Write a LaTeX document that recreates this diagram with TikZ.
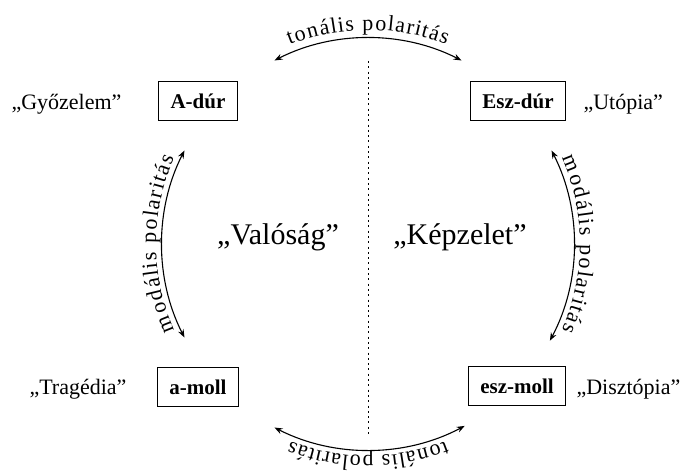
\documentclass[tikz,border=0pt]{standalone}
\usepackage{fontspec}
\setmainfont{Liberation Serif}
\usetikzlibrary{arrows.meta,decorations.text,calc}
\begin{document}
\begin{tikzpicture}[x=1pt,y=1pt,
  keybox/.style={draw, line width=0.9pt, minimum height=39pt, inner xsep=12pt,
    font=\fontsize{21}{21}\selectfont\bfseries},
  moodlabel/.style={font=\fontsize{22}{22}\selectfont},
  realm/.style={font=\fontsize{30}{30}\selectfont},
  polarity/.style={line width=1.1pt,
    {Stealth[length=8pt,width=6pt]}-{Stealth[length=8pt,width=6pt]}},
  divider/.style={line width=0.9pt, dash pattern=on 2pt off 3.3pt},
  arclabel/.style={decorate, font=\fontsize{22}{22}\selectfont,
    decoration={text effects along path, text={#1},
      text effects/.cd, text along path, fit text to path}},
]
\useasboundingbox (0,0) rectangle (688,475);
\coordinate (C) at (368,231);

% the four keys
\node[keybox] (adur)    at (198,374) {A-dúr};
\node[keybox] (eszdur)  at (518,374) {Esz-dúr};
\node[keybox] (amoll)   at (198,88)  {a-moll};
\node[keybox] (eszmoll) at (517,89)  {esz-moll};

% their meanings
\node[moodlabel, anchor=base east] (gyoz) at (125,366) {„Győzelem”};
\node[moodlabel, anchor=base west] (utop) at (580,366) {„Utópia”};
\node[moodlabel, anchor=base east] (trag) at (130,81)  {„Tragédia”};
\node[moodlabel, anchor=base west] (diszt) at (573,81) {„Disztópia”};

% the two realms and the border between them
\node[realm, anchor=base] (val) at (278,231) {„Valóság”};
\node[realm, anchor=base] (kep) at (460,231) {„Képzelet”};
\coordinate (dtop) at (368,414);
\coordinate (dbot) at (368,40);
\draw[divider] (dtop) -- (dbot);

% polarity arcs on a common circle
\def\R{206}
\coordinate (t1) at ($(C)+(117:\R)$);
\coordinate (l1) at ($(C)+(153:\R)$);
\coordinate (r1) at ($(C)+(27:\R)$);
\coordinate (b1) at ($(C)+(243:\R)$);
\draw[polarity] (t1) arc[start angle=117, end angle=63,  radius=\R];
\draw[polarity] (l1) arc[start angle=153, end angle=207, radius=\R];
\draw[polarity] (r1) arc[start angle=27,  end angle=-28, radius=\R];
\draw[polarity] (b1) arc[start angle=243, end angle=298, radius=\R];

% arc captions
\path[arclabel={tonális polaritás}] ($(C)+(111.5:214)$) arc[start angle=111.5, end angle=68.5, radius=214];
\path[arclabel={tonális polaritás}] ($(C)+(291.5:212)$) arc[start angle=291.5, end angle=248.5, radius=212];
\path[arclabel={modális polaritás}] ($(C)+(204:212)$) arc[start angle=204, end angle=156, radius=212];
\path[arclabel={modális polaritás}] ($(C)+(24:212)$)  arc[start angle=24, end angle=-24, radius=212];
\end{tikzpicture}
\end{document}
